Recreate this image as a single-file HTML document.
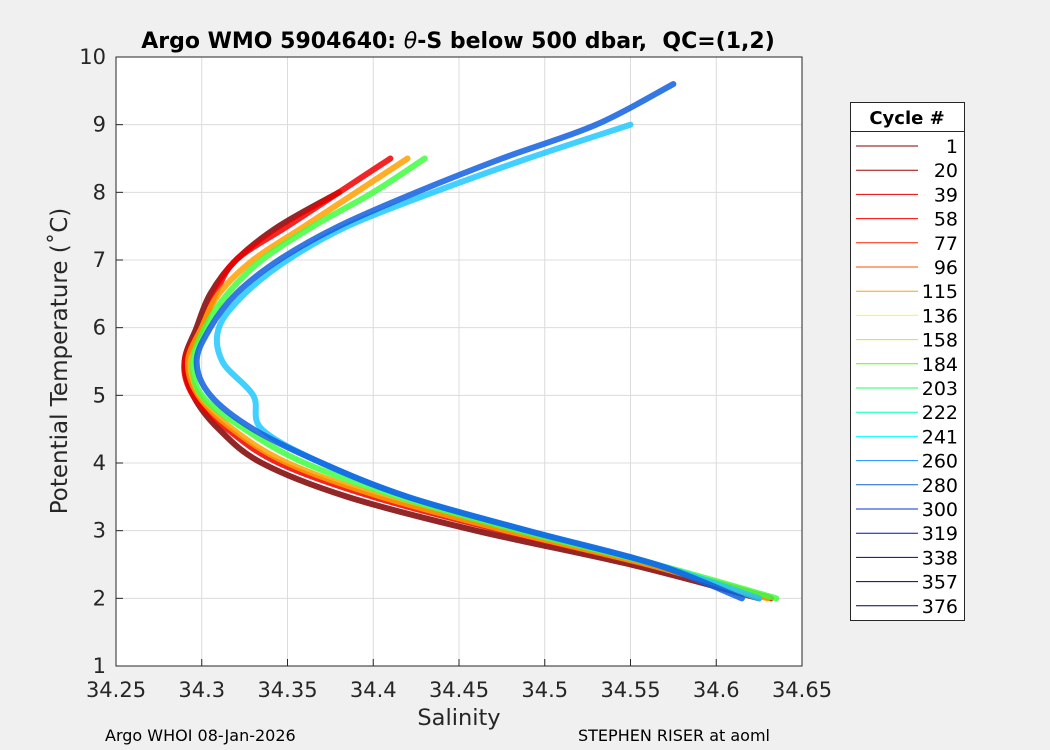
<!DOCTYPE html>
<html><head><meta charset="utf-8"><style>
body{margin:0;background:#f0f0f0;font-family:"Liberation Sans","DejaVu Sans",sans-serif}
svg{display:block}
</style></head><body>
<svg id="chart" width="1050" height="750" font-family="DejaVu Sans, Liberation Sans, sans-serif">
<rect x="0" y="0" width="1050" height="750" fill="#f0f0f0"/>
<rect x="116" y="57" width="686" height="609" fill="#fff"/>
<g id="grid"></g>
<g id="series"></g>
<rect x="116" y="57" width="686" height="609" fill="none" stroke="#262626" stroke-width="1"/>
<g id="ticks"></g>
<text x="458" y="48" text-anchor="middle" font-size="22" font-weight="bold" fill="#000" xml:space="preserve" style="white-space:pre">Argo WMO 5904640: <tspan font-style="italic" font-weight="normal">θ</tspan>-S below 500 dbar,  QC=(1,2)</text>
<text x="459" y="725" text-anchor="middle" font-size="22.5" fill="#262626">Salinity</text>
<text transform="translate(67,361) rotate(-90)" text-anchor="middle" font-size="23" fill="#262626">Potential Temperature (˚C)</text>
<text x="105" y="741" font-size="16" fill="#000">Argo WHOI 08-Jan-2026</text>
<text x="578" y="741" font-size="16" fill="#000">STEPHEN RISER at aoml</text>
<g id="legend">
<rect x="850.5" y="102.5" width="114" height="518" fill="#fff" stroke="#262626"/>
<line x1="850" y1="131.5" x2="964" y2="131.5" stroke="#262626"/>
<text x="907" y="124" text-anchor="middle" font-size="18" font-weight="bold">Cycle #</text>
</g>
</svg>
<script>
const temps = [9.6,9.0,8.5,8.0,7.5,7.0,6.5,6.0,5.5,5.0,4.5,4.0,3.5,3.0,2.5,2.0];
const salDarkRed = [null,null,null,34.38,34.345,34.32,34.305,34.297,34.29,34.295,34.31,34.335,34.385,34.46,34.55,34.625];
const salRed = [null,null,34.41,34.38,34.35,34.32,34.308,34.3,34.29,34.295,34.315,34.345,34.4,34.475,34.56,34.632];
const salOrange = [null,null,34.42,34.39,34.36,34.33,34.31,34.3,34.292,34.298,34.318,34.35,34.405,34.478,34.56,34.63];
const salGreen = [null,null,34.43,34.4,34.365,34.335,34.315,34.302,34.295,34.3,34.325,34.36,34.415,34.485,34.565,34.635];
const salCyan = [null,34.55,34.49,34.435,34.385,34.35,34.325,34.31,34.312,34.33,34.335,34.37,34.42,34.49,34.565,34.625];
const salBlue = [34.575,34.53,34.475,34.425,34.38,34.345,34.32,34.305,34.297,34.305,34.33,34.37,34.42,34.49,34.565,34.615];
const seriesList = [
 {name:'series-darkred',vals:salDarkRed,color:'#800000'},
 {name:'series-red',vals:salRed,color:'#f00000'},
 {name:'series-orange',vals:salOrange,color:'#ffa000'},
 {name:'series-green',vals:salGreen,color:'#40ff40'},
 {name:'series-cyan',vals:salCyan,color:'#20c8ff'},
 {name:'series-blue',vals:salBlue,color:'#1060e0'}
];
const xTicks = [34.25,34.3,34.35,34.4,34.45,34.5,34.55,34.6,34.65];
const yTicks = [1,2,3,4,5,6,7,8,9,10];
const legendLabels = ['1','20','39','58','77','96','115','136','158','184','203','222','241','260','280','300','319','338','357','376'];
const legendColors = ['#800000','#a00000','#f00000','#ff0000','#ff2000','#ff5000','#ffa000','#ffff00','#b0ff00','#50ff00','#20ff60','#00ffc0','#00ffff','#1090ff','#1060e0','#0030e0','#0010c0','#0000a0','#000080','#000050'];
const X = s => 116 + (s-34.25)/0.4*686;
const Y = t => 666 - (t-1)/9*609;
const NS='http://www.w3.org/2000/svg';
const grid=document.getElementById('grid'), ticks=document.getElementById('ticks'), ser=document.getElementById('series'), leg=document.getElementById('legend');
function mk(tag,attrs,parent){const e=document.createElementNS(NS,tag);for(const k in attrs)e.setAttribute(k,attrs[k]);parent.appendChild(e);return e;}
xTicks.forEach(v=>{const x=X(v);
 const g=mk('line',{x1:x,x2:x,y1:57,y2:666,stroke:'#dcdcdc'},grid);
 
 
 const t=mk('line',{x1:x,x2:x,y1:666,y2:659,stroke:'#262626'},ticks);
 
 
 const l=mk('text',{x:x,y:697,'text-anchor':'middle','font-size':21,fill:'#262626'},ticks);l.textContent=v.toString();
 
 
});
yTicks.forEach(v=>{const y=Y(v);
 const g=mk('line',{x1:116,x2:802,y1:y,y2:y,stroke:'#dcdcdc'},grid);
 
 
 const t=mk('line',{x1:116,x2:123,y1:y,y2:y,stroke:'#262626'},ticks);
 
 
 const l=mk('text',{x:106,y:y+7,'text-anchor':'end','font-size':21,fill:'#262626'},ticks);l.textContent=v;
 
 
});
seriesList.forEach(s=>{
 const pts=[];s.vals.forEach((v,i)=>{if(v!==null)pts.push([X(v),Y(temps[i])]);});
 let d='M'+pts[0][0]+','+pts[0][1];
 for(let i=0;i<pts.length-1;i++){const p0=pts[Math.max(0,i-1)],p1=pts[i],p2=pts[i+1],p3=pts[Math.min(pts.length-1,i+2)];
  d+=' C'+(p1[0]+(p2[0]-p0[0])/6)+','+(p1[1]+(p2[1]-p0[1])/6)+' '+(p2[0]-(p3[0]-p1[0])/6)+','+(p2[1]-(p3[1]-p1[1])/6)+' '+p2[0]+','+p2[1];}
 const p=mk('path',{d:d,fill:'none',stroke:s.color,'stroke-width':6,'stroke-linejoin':'round','stroke-linecap':'round','stroke-opacity':0.85},ser);
 
 
});
legendLabels.forEach((lab,i)=>{const y=146+i*24.2;
 const l=mk('line',{x1:856,x2:918,y1:y,y2:y,stroke:legendColors[i]},leg);
 
 
 const t=mk('text',{x:958,y:y+7,'text-anchor':'end','font-size':19,fill:'#000'},leg);t.textContent=lab;
 
 
});
</script>
</body></html>
